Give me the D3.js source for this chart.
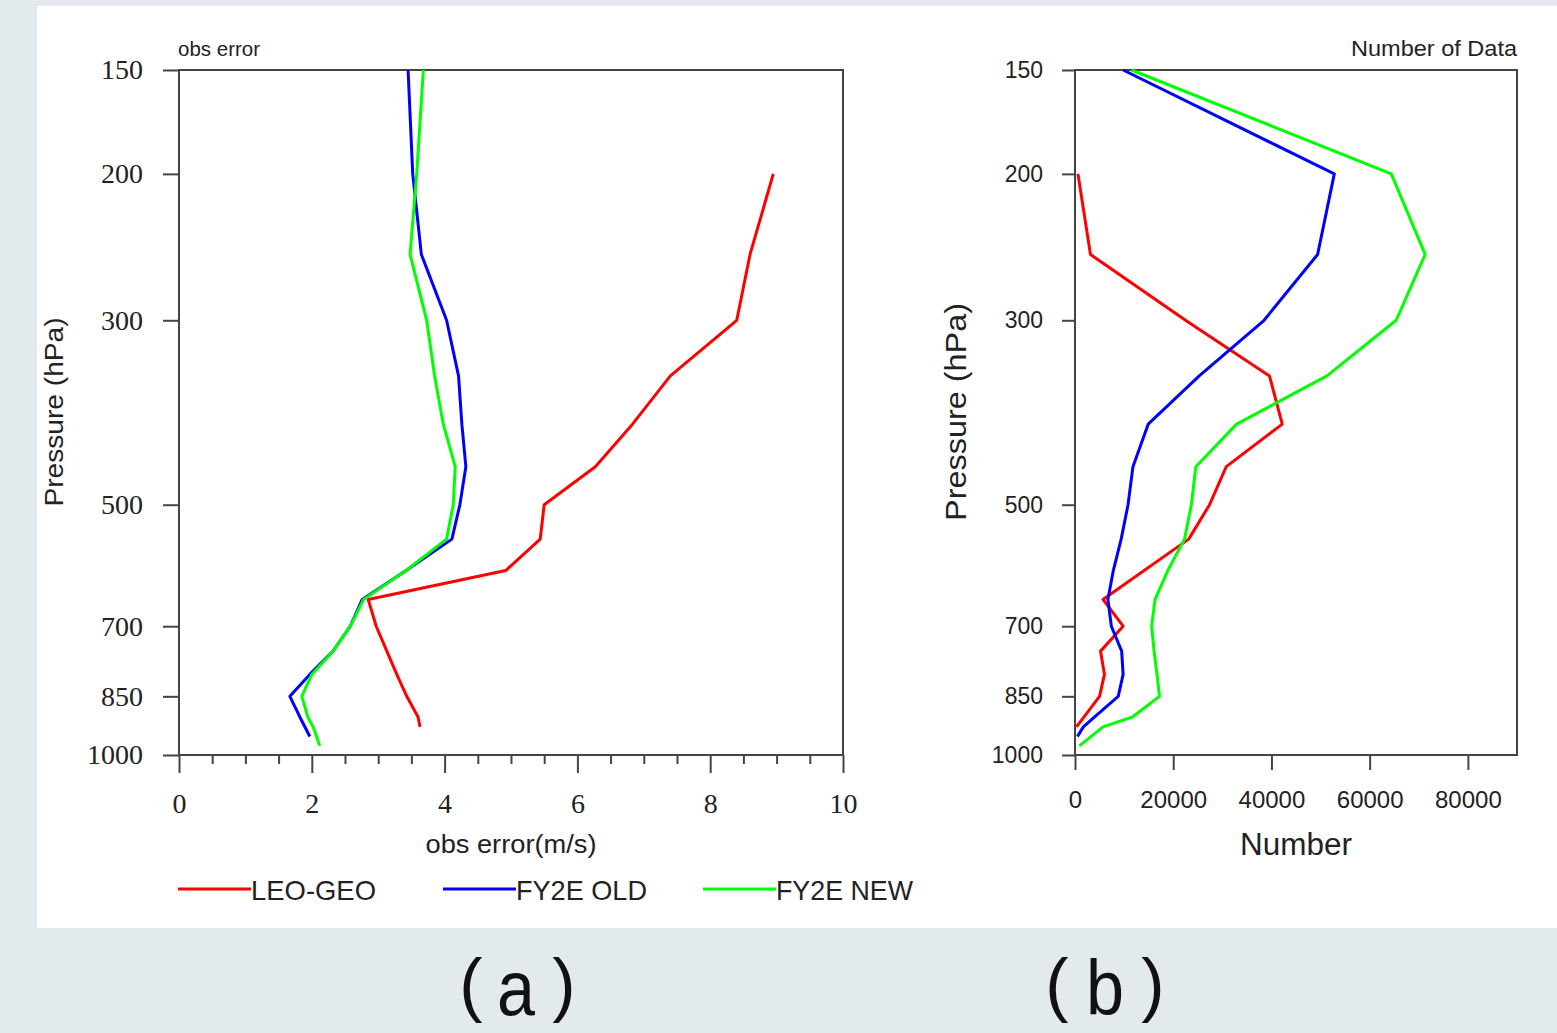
<!DOCTYPE html>
<html>
<head>
<meta charset="utf-8">
<script src="https://cdn.jsdelivr.net/npm/d3@7"></script>
<style>
  body { margin: 0; background: #e3eaed; }
  svg { display: block; }
  .serif text { font-family: "Liberation Serif", "Times New Roman", serif; }
  .sans text { font-family: "Liberation Sans", Arial, sans-serif; }
</style>
</head>
<body>
<script>
// pressure ticks shared by both panels
const pressureTicks = [150, 200, 300, 500, 700, 850, 1000];

// panel (a): obs error (m/s)
const errLevelsLeo = [200, 250, 300, 350, 400, 450, 500, 550, 600, 650, 700, 750, 800, 850, 900, 925];
const errLeo = [8.95, 8.6, 8.4, 7.4, 6.83, 6.27, 5.5, 5.44, 4.92, 2.85, 2.97, 3.13, 3.28, 3.43, 3.6, 3.63];
const errLevelsOld = [150, 200, 250, 300, 350, 400, 450, 500, 550, 600, 650, 700, 750, 800, 850, 900, 950];
const errOld = [3.45, 3.52, 3.65, 4.03, 4.21, 4.26, 4.32, 4.23, 4.11, 3.42, 2.76, 2.58, 2.32, 1.97, 1.67, 1.82, 1.97];
const errLevelsNew = [150, 200, 250, 300, 350, 400, 450, 500, 550, 600, 650, 700, 750, 800, 850, 900, 925, 975];
const errNew = [3.68, 3.58, 3.48, 3.73, 3.85, 3.98, 4.16, 4.13, 4.03, 3.42, 2.78, 2.58, 2.32, 2.0, 1.85, 1.94, 2.02, 2.12];
const errTicks = [0, 2, 4, 6, 8, 10];

// panel (b): number of data
const numLevelsLeo = [200, 250, 300, 350, 400, 450, 500, 550, 650, 700, 750, 800, 850, 925];
const numLeo = [600, 3150, 22500, 39600, 42200, 30800, 27400, 23150, 5700, 9800, 5200, 6000, 5000, 300];
const numLevelsOld = [150, 200, 250, 300, 350, 400, 450, 500, 550, 600, 650, 700, 750, 800, 850, 900, 925, 950];
const numOld = [9800, 52800, 49400, 38500, 25300, 14900, 11800, 10800, 9400, 7800, 6700, 7400, 9500, 9800, 8800, 4000, 1700, 500];
const numLevelsNew = [150, 200, 250, 300, 350, 400, 450, 500, 550, 600, 650, 700, 750, 800, 850, 900, 925, 975];
const numNew = [11500, 64400, 71300, 65400, 51300, 32900, 24600, 23700, 22300, 18900, 16300, 15600, 16100, 16700, 17200, 11700, 5700, 900];
const numTicks = [0, 20000, 40000, 60000, 80000];

const seriesNames = ["LEO-GEO", "FY2E OLD", "FY2E NEW"];
const seriesColors = ["#ff0000", "#0000ff", "#00ff00"];

function init() {
    var W = 1557, H = 1033;
    var top = 70, bottom = 755;
    var axisColor = "#444";

    var svg = d3.select("body").append("svg")
        .attr("width", W)
        .attr("height", H);

    // white figure area
    svg.append("rect")
        .attr("x", 37).attr("y", 6)
        .attr("width", W - 37).attr("height", 922)
        .attr("fill", "#ffffff");

    var yScale = d3.scaleLog()
        .domain([150, 1000])
        .range([top, bottom]);

    var line = function(xs) {
        return d3.line()
            .x(function(d) { return xs(d[1]); })
            .y(function(d) { return yScale(d[0]); });
    };

    // ---------- panel (a) ----------
    var xA = d3.scaleLinear().domain([0, 10]).range([179, 843]);

    var gA = svg.append("g");
    gA.append("rect")
        .attr("x", xA(0)).attr("y", top)
        .attr("width", xA(10) - xA(0)).attr("height", bottom - top)
        .attr("fill", "none").attr("stroke", axisColor).attr("stroke-width", 2);

    var yAxisA = gA.append("g").attr("class", "serif")
        .attr("transform", "translate(" + xA(0) + ",0)")
        .call(d3.axisLeft(yScale).tickValues(pressureTicks).tickFormat(d3.format("d"))
            .tickSize(16).tickSizeOuter(0).tickPadding(20));
    yAxisA.selectAll("text").attr("font-size", 28).attr("fill", "#222");

    var minorA = d3.range(0, 10.01, 0.5).filter(function(v) { return v % 2 !== 0; });
    gA.append("g")
        .attr("transform", "translate(0," + bottom + ")")
        .call(d3.axisBottom(xA).tickValues(minorA).tickFormat("").tickSize(9).tickSizeOuter(0));

    var xAxisA = gA.append("g").attr("class", "serif")
        .attr("transform", "translate(0," + bottom + ")")
        .call(d3.axisBottom(xA).tickValues(errTicks).tickFormat(d3.format("d"))
            .tickSize(18).tickSizeOuter(0).tickPadding(20));
    xAxisA.selectAll("text").attr("font-size", 28).attr("fill", "#222");

    gA.selectAll(".tick line").attr("stroke", axisColor).attr("stroke-width", 2);
    gA.selectAll(".domain").remove();

    var dataA = [
        d3.zip(errLevelsLeo, errLeo),
        d3.zip(errLevelsOld, errOld),
        d3.zip(errLevelsNew, errNew)
    ];
    gA.selectAll("path.series")
        .data(dataA)
        .enter()
        .append("path")
        .attr("class", "series")
        .attr("d", line(xA))
        .attr("fill", "none")
        .attr("stroke", function(d, i) { return seriesColors[i]; })
        .attr("stroke-width", 3)
        .attr("stroke-linejoin", "round");

    var labA = gA.append("g").attr("class", "sans").attr("fill", "#222");
    labA.append("text")
        .attr("x", 178).attr("y", 56)
        .attr("font-size", 20)
        .attr("textLength", 82).attr("lengthAdjust", "spacingAndGlyphs")
        .text("obs error");
    labA.append("text")
        .attr("transform", "translate(63,412) rotate(-90)")
        .attr("text-anchor", "middle")
        .attr("font-size", 26)
        .attr("textLength", 189).attr("lengthAdjust", "spacingAndGlyphs")
        .text("Pressure (hPa)");
    labA.append("text")
        .attr("x", 511).attr("y", 853)
        .attr("text-anchor", "middle")
        .attr("font-size", 25)
        .attr("textLength", 171).attr("lengthAdjust", "spacingAndGlyphs")
        .text("obs error(m/s)");

    // legend
    var legX = [178, 443, 703];
    var legTextW = [125, 131, 137];
    var leg = svg.append("g").attr("class", "sans");
    seriesNames.forEach(function(name, i) {
        leg.append("line")
            .attr("x1", legX[i]).attr("x2", legX[i] + 73)
            .attr("y1", 889).attr("y2", 889)
            .attr("stroke", seriesColors[i]).attr("stroke-width", 3);
        leg.append("text")
            .attr("x", legX[i] + 73).attr("y", 900)
            .attr("font-size", 28).attr("fill", "#222")
            .attr("textLength", legTextW[i]).attr("lengthAdjust", "spacingAndGlyphs")
            .text(name);
    });

    // ---------- panel (b) ----------
    var xB = d3.scaleLinear().domain([0, 90000]).range([1075, 1517]);

    var gB = svg.append("g");
    gB.append("rect")
        .attr("x", xB(0)).attr("y", top)
        .attr("width", xB(90000) - xB(0)).attr("height", bottom - top)
        .attr("fill", "none").attr("stroke", axisColor).attr("stroke-width", 2);

    var yAxisB = gB.append("g").attr("class", "sans")
        .attr("transform", "translate(" + xB(0) + ",0)")
        .call(d3.axisLeft(yScale).tickValues(pressureTicks).tickFormat(d3.format("d"))
            .tickSize(13).tickSizeOuter(0).tickPadding(19));
    yAxisB.selectAll("text").attr("font-size", 23).attr("fill", "#222");

    var xAxisB = gB.append("g").attr("class", "sans")
        .attr("transform", "translate(0," + bottom + ")")
        .call(d3.axisBottom(xB).tickValues(numTicks).tickFormat(d3.format("d"))
            .tickSize(15).tickSizeOuter(0).tickPadding(21));
    xAxisB.selectAll("text").attr("font-size", 24).attr("fill", "#222");

    gB.selectAll(".tick line").attr("stroke", axisColor).attr("stroke-width", 2);
    gB.selectAll(".domain").remove();

    var dataB = [
        d3.zip(numLevelsLeo, numLeo),
        d3.zip(numLevelsOld, numOld),
        d3.zip(numLevelsNew, numNew)
    ];
    gB.selectAll("path.series")
        .data(dataB)
        .enter()
        .append("path")
        .attr("class", "series")
        .attr("d", line(xB))
        .attr("fill", "none")
        .attr("stroke", function(d, i) { return seriesColors[i]; })
        .attr("stroke-width", 3)
        .attr("stroke-linejoin", "round");

    var labB = gB.append("g").attr("class", "sans").attr("fill", "#222");
    labB.append("text")
        .attr("x", 1517).attr("y", 56)
        .attr("text-anchor", "end")
        .attr("font-size", 22)
        .attr("textLength", 166).attr("lengthAdjust", "spacingAndGlyphs")
        .text("Number of Data");
    labB.append("text")
        .attr("transform", "translate(966,412) rotate(-90)")
        .attr("text-anchor", "middle")
        .attr("font-size", 30)
        .attr("textLength", 218).attr("lengthAdjust", "spacingAndGlyphs")
        .text("Pressure (hPa)");
    labB.append("text")
        .attr("x", 1296).attr("y", 855)
        .attr("text-anchor", "middle")
        .attr("font-size", 31)
        .attr("textLength", 112).attr("lengthAdjust", "spacingAndGlyphs")
        .text("Number");

    // ---------- sub-figure captions ----------
    var cap = svg.append("g")
        .attr("fill", "#111")
        .style("font-family", "'Liberation Sans', Arial, sans-serif");
    [["a", 471, 516, 564], ["b", 1057, 1105, 1153]].forEach(function(c) {
        cap.append("text").attr("x", c[1]).attr("y", 1008)
            .attr("text-anchor", "middle").attr("font-size", 70).text("(");
        cap.append("text").attr("x", c[2]).attr("y", 1015)
            .attr("text-anchor", "middle").attr("font-size", 78)
            .attr("textLength", 38).attr("lengthAdjust", "spacingAndGlyphs")
            .text(c[0]);
        cap.append("text").attr("x", c[3]).attr("y", 1008)
            .attr("text-anchor", "middle").attr("font-size", 70).text(")");
    });
}
window.onload = init;
</script>
</body>
</html>
